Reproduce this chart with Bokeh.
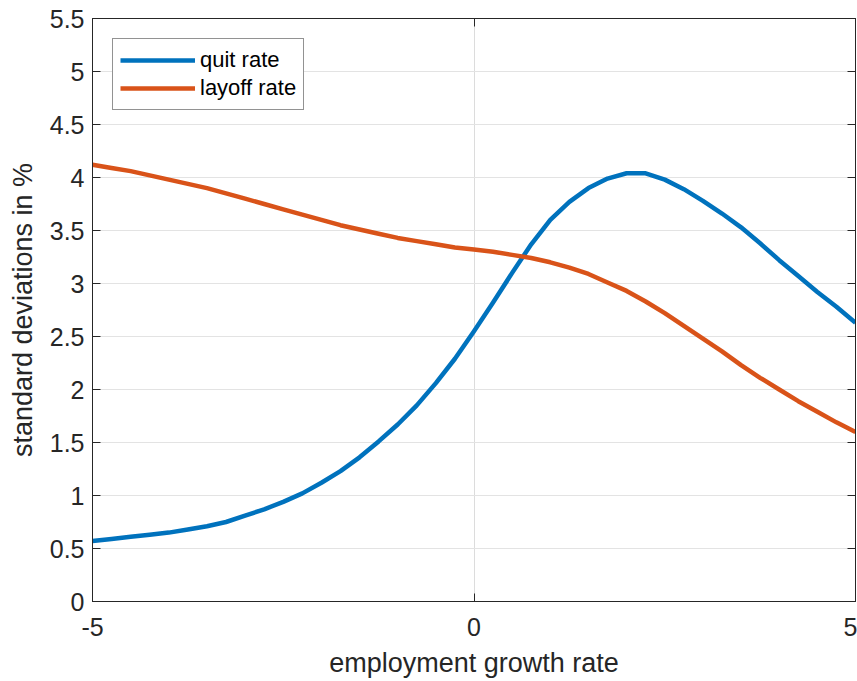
from bokeh.plotting import figure
from bokeh.models import (Range1d, FixedTicker, LinearAxis, Legend, LegendItem, Grid)
from bokeh.embed import file_html
from bokeh.resources import INLINE

# employment growth rate grid
growth = [-5.00, -4.75, -4.50, -4.25, -4.00, -3.75, -3.50, -3.25, -3.00, -2.75,
          -2.50, -2.25, -2.00, -1.75, -1.50, -1.25, -1.00, -0.75, -0.50, -0.25,
          0.00, 0.25, 0.50, 0.75, 1.00, 1.25, 1.50, 1.75, 2.00, 2.25,
          2.50, 2.75, 3.00, 3.25, 3.50, 3.75, 4.00, 4.25, 4.50, 4.75, 5.00]

# standard deviations in %
quit_rate = [0.57, 0.59, 0.61, 0.63, 0.65, 0.68, 0.71, 0.75, 0.81, 0.87,
             0.94, 1.02, 1.12, 1.23, 1.36, 1.51, 1.67, 1.85, 2.06, 2.29,
             2.55, 2.82, 3.10, 3.37, 3.60, 3.77, 3.90, 3.99, 4.04, 4.04,
             3.98, 3.89, 3.78, 3.66, 3.53, 3.38, 3.22, 3.07, 2.92, 2.78, 2.63]
layoff_rate = [4.12, 4.09, 4.06, 4.02, 3.98, 3.94, 3.90, 3.85, 3.80, 3.75,
               3.70, 3.65, 3.60, 3.55, 3.51, 3.47, 3.43, 3.40, 3.37, 3.34,
               3.32, 3.30, 3.27, 3.24, 3.20, 3.15, 3.09, 3.01, 2.93, 2.83,
               2.72, 2.60, 2.48, 2.36, 2.23, 2.11, 2.00, 1.89, 1.79, 1.69, 1.60]

x_ticks = [-5, 0, 5]
x_tick_labels = ["-5", "0", "5"]
y_ticks = [0, 0.5, 1, 1.5, 2, 2.5, 3, 3.5, 4, 4.5, 5, 5.5]
y_tick_labels = ["0", "0.5", "1", "1.5", "2", "2.5", "3", "3.5", "4", "4.5", "5", "5.5"]

FONT = "Liberation Sans"
AX = "#262626"
BLUE = "#0072BD"
ORANGE = "#D95319"

p = figure(width=857, height=681, output_backend="svg", toolbar_location=None,
           x_range=Range1d(-5, 5), y_range=Range1d(0, 5.5),
           min_border_left=92, min_border_right=2, min_border_top=18,
           min_border_bottom=80, x_axis_location=None, y_axis_location=None)
p.background_fill_color = "white"
p.border_fill_color = "white"
p.outline_line_color = AX
p.outline_line_width = 1


def style_axis(ax, labels=True):
    ax.axis_line_color = AX
    ax.axis_line_width = 1
    ax.major_tick_line_color = AX
    ax.major_tick_in = 8
    ax.major_tick_out = 0
    ax.minor_tick_line_color = None
    ax.major_label_text_font = FONT
    ax.major_label_text_color = AX
    ax.axis_label_text_font = FONT
    ax.axis_label_text_color = AX
    ax.axis_label_text_font_style = "normal"
    if labels:
        ax.major_label_text_font_size = "25px"
        ax.axis_label_text_font_size = "27px"
    else:
        # box-side axes carry tick marks only
        ax.major_label_text_color = None
        ax.major_label_text_font_size = "1px"
        ax.major_label_standoff = 0


xb = LinearAxis(ticker=FixedTicker(ticks=x_ticks), axis_label="employment growth rate",
                major_label_overrides={t: s for t, s in zip(x_ticks, x_tick_labels)})
style_axis(xb)
xb.major_label_standoff = 16
xb.axis_label_standoff = 9
p.add_layout(xb, "below")

yl = LinearAxis(ticker=FixedTicker(ticks=y_ticks), axis_label="standard deviations in %",
                major_label_overrides={t: s for t, s in zip(y_ticks, y_tick_labels)})
style_axis(yl)
yl.major_label_standoff = 8
yl.axis_label_standoff = 9
yl.axis_label_text_font_size = "27px"
p.add_layout(yl, "left")

xt = LinearAxis(ticker=FixedTicker(ticks=x_ticks))
style_axis(xt, labels=False)
p.add_layout(xt, "above")

yr = LinearAxis(ticker=FixedTicker(ticks=y_ticks))
style_axis(yr, labels=False)
p.add_layout(yr, "right")

p.xgrid.visible = False
p.ygrid.visible = False
gx = Grid(dimension=0, ticker=FixedTicker(ticks=x_ticks), grid_line_color="#dcdcdc", grid_line_width=1)
gy = Grid(dimension=1, ticker=FixedTicker(ticks=y_ticks), grid_line_color="#e3e3e3", grid_line_width=1)
p.add_layout(gx)
p.add_layout(gy)

r_quit = p.line(growth, quit_rate, line_color=BLUE, line_width=4.5, line_join="round")
r_lay = p.line(growth, layoff_rate, line_color=ORANGE, line_width=4.5, line_join="round")

legend = Legend(items=[LegendItem(label="quit rate", renderers=[r_quit]),
                       LegendItem(label="layoff rate", renderers=[r_lay])],
                location="top_left", margin=20, padding=7, spacing=0,
                glyph_width=75, glyph_height=28, label_height=28, label_standoff=5,
                label_text_font=FONT, label_text_font_size="22px", label_text_color="black",
                border_line_color=AX, border_line_width=1, background_fill_color="white",
                background_fill_alpha=1.0)
p.add_layout(legend)

open("out.html", "w").write(file_html(p, INLINE))
